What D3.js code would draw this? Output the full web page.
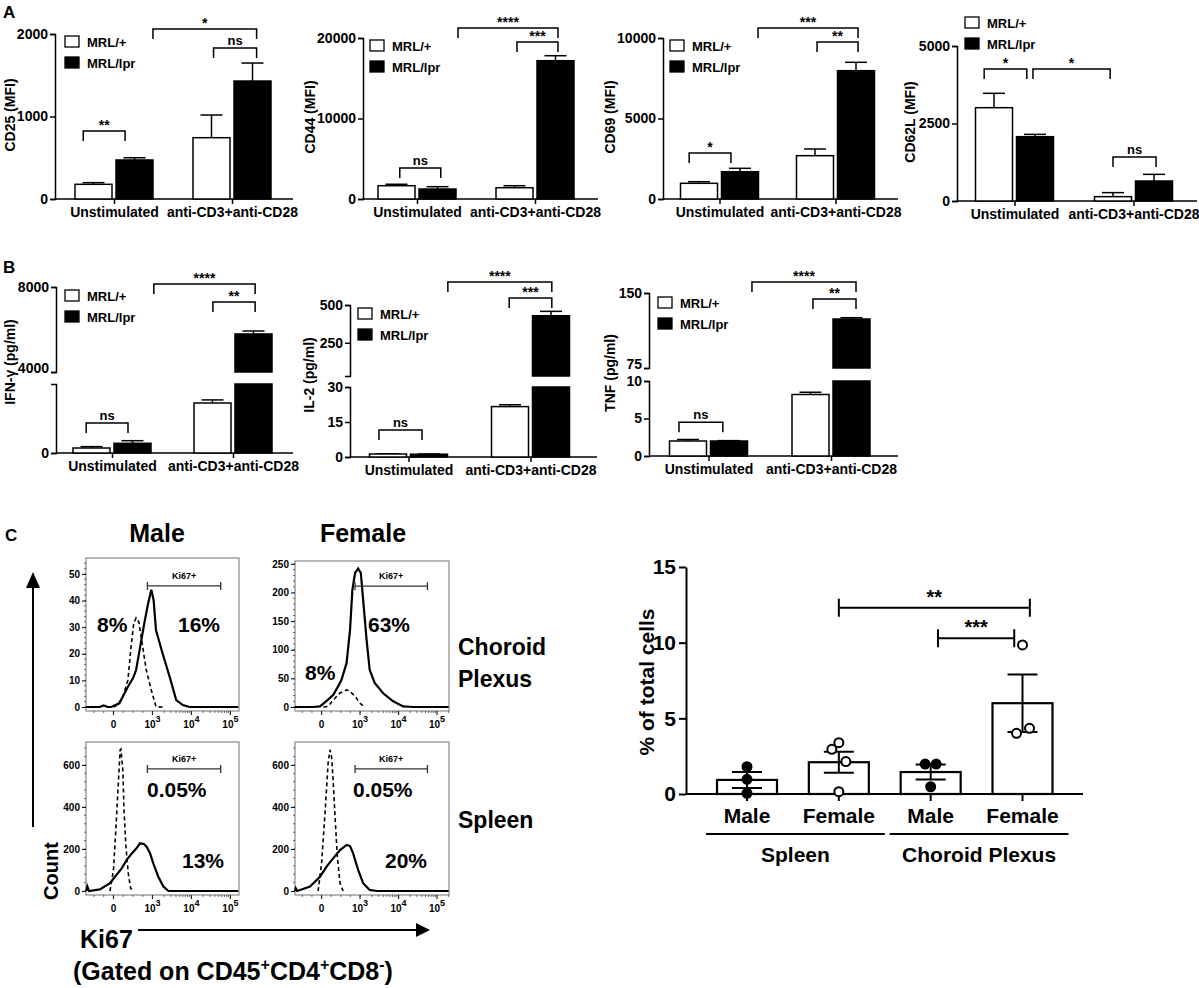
<!DOCTYPE html>
<html>
<head>
<meta charset="utf-8">
<script src="https://cdn.jsdelivr.net/npm/d3@7"></script>
<style>
body { margin: 0; background: #fff; }
svg { display: block; font-family: "Liberation Sans", Arial, sans-serif; font-weight: bold; }
</style>
</head>
<body>
<script>
// ---- panel A / B data (MRL/+ vs MRL/lpr, mean and SEM) ----
const groups = ["Unstimulated", "anti-CD3+anti-CD28"]
const strains = ["MRL/+", "MRL/lpr"]

const cd25Wt = [178, 743], cd25WtErr = [20, 275], cd25Lpr = [473, 1430], cd25LprErr = [27, 218]
const cd44Wt = [1650, 1400], cd44WtErr = [180, 250], cd44Lpr = [1240, 17180], cd44LprErr = [290, 620]
const cd69Wt = [975, 2690], cd69WtErr = [100, 415], cd69Lpr = [1696, 7970], cd69LprErr = [210, 520]
const cd62Wt = [3010, 140], cd62WtErr = [464, 130], cd62Lpr = [2075, 645], cd62LprErr = [75, 215]
const ifnWt = [235, 2355], ifnWtErr = [65, 145], ifnLpr = [457, 5790], ifnLprErr = [123, 140]
const il2Wt = [1.3, 21.6], il2WtErr = [0.1, 0.8], il2Lpr = [1.2, 429], il2LprErr = [0.1, 29]
const tnfWt = [2.0, 8.2], tnfWtErr = [0.2, 0.3], tnfLpr = [2.0, 124], tnfLprErr = [0.05, 1.3]

// significance brackets: [label, group1, bar1, group2, bar2, height]
const cd25Sig = [["**", 0, -0.25, 0, 0.77, 824], ["*", 0, 1.45, 1, 1.1, 2060], ["ns", 1, 0.05, 1, 1.1, 1830]]
const cd44Sig = [["ns", 0, 0.08, 0, 1.08, 3850], ["****", 0, 1.5, 1, 1.06, 21240], ["***", 1, 0.06, 1, 1.06, 19500]]
const cd69Sig = [["*", 0, -0.24, 0, 0.78, 2860], ["***", 0, 1.44, 1, 1.05, 10620], ["**", 1, 0.05, 1, 1.05, 9750]]
const cd62Sig = [["*", 0, -0.24, 0, 0.8, 4260], ["*", 0, 0.95, 1, -0.07, 4260], ["ns", 1, 0.0, 1, 1.05, 1420]]
const ifnSig = [["ns", 0, -0.13, 0, 0.89, 1410], ["****", 0, 1.52, 1, 1.04, 8140], ["**", 1, 0.01, 1, 1.04, 7290]]
const il2Sig = [["ns", 0, -0.22, 0, 0.83, 11.6], ["****", 0, 1.46, 1, 1.02, 652], ["***", 1, -0.02, 1, 1.02, 546]]
const tnfSig = [["ns", 0, -0.22, 0, 0.85, 4.5], ["****", 0, 1.56, 1, 1.11, 161], ["**", 1, 0.06, 1, 1.11, 144]]

// ---- panel C histograms: [Ki67 display position, count] ----
const cpMaleKi67 = [[-0.7,0],[-0.36,0],[-0.25,0.6],[-0.15,0],[-0.06,0],[0.15,1.4],[0.37,7.6],[0.5,10.8],[0.58,13.9],[0.67,21.4],[0.79,31.4],[0.88,38.3],[0.97,44.1],[1.03,40.1],[1.09,28.9],[1.26,20.1],[1.44,11.4],[1.61,2.6],[1.78,0.75],[1.95,0],[3.2,0]]
const cpMaleIso = [[0.0,0],[0.11,0.75],[0.24,3.9],[0.37,10.1],[0.45,22.6],[0.52,31.4],[0.58,33.5],[0.65,32],[0.71,26.4],[0.84,13.9],[0.97,6.4],[1.09,0.1],[1.26,0]]
const cpFemaleKi67 = [[-0.69,0],[-0.22,0],[-0.04,1],[0.17,13],[0.3,21],[0.43,36],[0.52,48],[0.65,77],[0.74,135],[0.8,204],[0.87,234],[0.95,242],[1.02,234],[1.08,187],[1.17,117],[1.25,65],[1.38,42],[1.6,24],[1.86,10],[2.12,1],[2.38,0],[3.3,0]]
const cpFemaleIso = [[0.05,0],[0.17,1],[0.3,12],[0.47,24],[0.65,30],[0.74,27],[0.87,19],[0.99,7],[1.12,0]]
const spMaleKi67 = [[-0.7,0],[-0.67,21],[-0.63,0],[-0.35,8],[-0.09,37],[0.04,68],[0.21,108],[0.34,148],[0.47,179],[0.59,203],[0.68,227],[0.78,224],[0.85,211],[0.94,179],[1.02,132],[1.15,68],[1.28,21],[1.41,0],[3.2,0]]
const spMaleIso = [[-0.09,0],[0.0,100],[0.06,290],[0.12,497],[0.17,671],[0.19,675],[0.24,576],[0.27,386],[0.32,211],[0.38,84],[0.44,13],[0.51,0]]
const spFemaleKi67 = [[-0.69,0],[-0.67,13],[-0.63,0],[-0.3,21],[-0.04,68],[0.13,116],[0.3,155],[0.48,195],[0.65,219],[0.74,214],[0.82,179],[0.95,100],[1.08,37],[1.25,5],[1.43,0],[3.3,0]]
const spFemaleIso = [[-0.09,0],[0.0,132],[0.09,370],[0.17,608],[0.22,671],[0.26,640],[0.3,528],[0.35,354],[0.41,163],[0.48,37],[0.56,0]]
const gateRange = [0.87, 2.75]
const xDecades = ["0", "3", "4", "5"]

// ---- panel C dot plot ----
const dotSex = ["Male", "Female", "Male", "Female"]
const dotTissue = ["Spleen", "Choroid Plexus"]
const dotMean = [0.93, 2.1, 1.45, 6.0]
const dotSem = [0.53, 0.7, 0.5, 1.9]
const dotPoints = [[1.8, 0.97, 0.05], [2.95, 3.39, 2.14, 0.15], [1.98, 1.98, 0.48], [9.85, 4.01, 4.34]]
const dotSig = [["**", 1, 3.08, 12.3], ["***", 2.08, 2.91, 10.3]]

const svg = d3.select("body").append("svg").attr("width", 1199).attr("height", 988)

function label(sel, x, y, s, size, anchor = "start") {
    return sel.append("text").attr("x", x).attr("y", y)
        .attr("font-size", size).attr("text-anchor", anchor).text(s)
}

function barPanel(p) {
    const g = svg.append("g")
    const segs = p.segs.map(s => Object.assign({}, s, { y: d3.scaleLinear().domain(s.dom).range(s.rng) }))
    const low = segs[0], up = segs[segs.length - 1]
    const yv = v => (v <= low.dom[1] ? low.y(v) : up.y(v))
    const bx = (gi, s) => p.c[gi] + (s - 0.5) * 41
    const y0 = low.y(0)

    segs.forEach((s, si) => {
        const a = g.append("g").attr("transform", `translate(${p.ax},0)`)
            .call(d3.axisLeft(s.y).tickValues(s.ticks).tickSize(5).tickSizeOuter(5).tickPadding(2)
                .tickFormat(d3.format("d")))
        a.attr("font-family", null).attr("font-size", 14)
        a.selectAll("path, line").attr("stroke-width", 1.5)
        // lift the lowest label of an upper segment so it clears the segment below
        if (si > 0) a.selectAll(".tick text").filter(d => d === s.dom[0]).attr("dy", "0.05em")
    })

    const xp = d3.scalePoint().domain(groups).range(p.c)
    const xa = g.append("g").attr("transform", `translate(0,${y0})`)
        .call(d3.axisBottom(xp).tickSize(5).tickSizeOuter(0).tickPadding(3))
    xa.select(".domain").remove()
    xa.attr("font-family", null).attr("font-size", 14)
    xa.selectAll("line").attr("stroke-width", 1.5)
    g.append("line").attr("x1", p.ax).attr("x2", p.end).attr("y1", y0).attr("y2", y0)
        .attr("stroke", "#000").attr("stroke-width", 1.5)

    const bars = []
    groups.forEach((_, gi) => {
        bars.push({ gi, s: 0, v: p.wt[gi], e: p.wtErr[gi], fill: "#fff" })
        bars.push({ gi, s: 1, v: p.lpr[gi], e: p.lprErr[gi], fill: "#000" })
    })
    bars.forEach(b => {
        const cx = bx(b.gi, b.s)
        const yt = yv(b.v), ye = yv(b.v + b.e)
        g.append("line").attr("x1", cx).attr("x2", cx).attr("y1", yt).attr("y2", ye)
            .attr("stroke", "#000").attr("stroke-width", 1.5)
        g.append("line").attr("x1", cx - 11).attr("x2", cx + 11).attr("y1", ye).attr("y2", ye)
            .attr("stroke", "#000").attr("stroke-width", 1.5)
        const parts = b.v > low.dom[1]
            ? [[y0, low.y(low.dom[1])], [up.y(up.dom[0]), up.y(b.v)]]
            : [[y0, yt]]
        g.selectAll(null).data(parts).join("rect")
            .attr("x", cx - 18.5).attr("width", 37)
            .attr("y", d => d[1]).attr("height", d => d[0] - d[1])
            .attr("fill", b.fill).attr("stroke", "#000").attr("stroke-width", 1.5)
    })

    p.sig.forEach(([t, g1, s1, g2, s2, v]) => {
        const x1 = bx(g1, s1), x2 = bx(g2, s2), y = yv(v)
        g.append("path").attr("d", `M${x1},${y + 10}V${y}H${x2}V${y + 10}`)
            .attr("fill", "none").attr("stroke", "#000").attr("stroke-width", 1.5)
        label(g, (x1 + x2) / 2, y - (t === "ns" ? 3 : 1), t, t === "ns" ? 13 : 14, "middle")
    })

    // legend
    strains.forEach((s, i) => {
        const ly = p.legend[1] + i * 21
        g.append("rect").attr("x", p.legend[0]).attr("y", ly).attr("width", 14).attr("height", 11)
            .attr("fill", i ? "#000" : "#fff").attr("stroke", "#000").attr("stroke-width", 1.3)
        label(g, p.legend[0] + 22, ly + 11, s, 13)
    })

    g.append("text").attr("transform", `translate(${p.ylab[0]},${p.ylab[1]}) rotate(-90)`)
        .attr("dy", "0.35em").attr("text-anchor", "middle").attr("font-size", 14).text(p.title)
}

const barPanels = [
    { title: "CD25 (MFI)", ax: 55, c: [114, 232], end: 293, ylab: [10, 115], legend: [65, 36],
      segs: [{ dom: [0, 2000], rng: [199, 34], ticks: [0, 1000, 2000] }],
      wt: cd25Wt, wtErr: cd25WtErr, lpr: cd25Lpr, lprErr: cd25LprErr, sig: cd25Sig },
    { title: "CD44 (MFI)", ax: 363, c: [417, 535], end: 598, ylab: [310, 117], legend: [370, 40],
      segs: [{ dom: [0, 20000], rng: [199, 38], ticks: [0, 10000, 20000] }],
      wt: cd44Wt, wtErr: cd44WtErr, lpr: cd44Lpr, lprErr: cd44LprErr, sig: cd44Sig },
    { title: "CD69 (MFI)", ax: 663, c: [719.5, 835.5], end: 898, ylab: [610, 117], legend: [670, 40],
      segs: [{ dom: [0, 10000], rng: [199, 38], ticks: [0, 5000, 10000] }],
      wt: cd69Wt, wtErr: cd69WtErr, lpr: cd69Lpr, lprErr: cd69LprErr, sig: cd69Sig },
    { title: "CD62L (MFI)", ax: 957, c: [1014.5, 1133.5], end: 1197, ylab: [910, 122], legend: [965, 17],
      segs: [{ dom: [0, 5000], rng: [201, 46], ticks: [0, 2500, 5000] }],
      wt: cd62Wt, wtErr: cd62WtErr, lpr: cd62Lpr, lprErr: cd62LprErr, sig: cd62Sig },
    { title: "IFN-γ (pg/ml)", ax: 56, c: [112, 233], end: 293, ylab: [10, 362], legend: [65, 290],
      segs: [{ dom: [0, 3250], rng: [453, 384], ticks: [0] }, { dom: [4000, 8000], rng: [372, 287], ticks: [4000, 8000] }],
      wt: ifnWt, wtErr: ifnWtErr, lpr: ifnLpr, lprErr: ifnLprErr, sig: ifnSig },
    { title: "IL-2 (pg/ml)", ax: 350, c: [408.5, 530.5], end: 597, ylab: [309, 375], legend: [358, 308],
      segs: [{ dom: [0, 30], rng: [457, 387], ticks: [0, 15, 30] }, { dom: [30, 500], rng: [376, 305], ticks: [250, 500] }],
      wt: il2Wt, wtErr: il2WtErr, lpr: il2Lpr, lprErr: il2LprErr, sig: il2Sig },
    { title: "TNF (pg/ml)", ax: 649, c: [708.5, 831], end: 898, ylab: [610, 373], legend: [658, 297],
      segs: [{ dom: [0, 10], rng: [456, 381], ticks: [0, 5, 10] }, { dom: [75, 150], rng: [368, 293], ticks: [75, 150] }],
      wt: tnfWt, wtErr: tnfWtErr, lpr: tnfLpr, lprErr: tnfLprErr, sig: tnfSig }
]
barPanels.forEach(barPanel)

label(svg, 3, 18, "A", 17)
label(svg, 3, 273, "B", 17)
label(svg, 5, 541, "C", 17)

// ---- histograms ----
function histPanel(h) {
    const [x0, x1, yTop, yBot] = h.box
    const x = d3.scaleLinear().domain(h.xd).range([x0, x1])
    const y = d3.scaleLinear().domain(h.yd).range([yBot, yTop])
    const g = svg.append("g")
    g.append("rect").attr("x", x0).attr("y", yTop).attr("width", x1 - x0).attr("height", yBot - yTop)
        .attr("fill", "none").attr("stroke", "#888").attr("stroke-width", 1.2)

    const ya = g.append("g").attr("transform", `translate(${x0},0)`)
        .call(d3.axisLeft(y).tickValues(h.yt).tickSize(4).tickSizeOuter(0).tickPadding(2))
    ya.select(".domain").remove()
    ya.attr("font-family", null).attr("font-size", 10)
    g.selectAll(null).data(d3.range(0, h.yd[1], h.minor)).join("line")
        .attr("x1", x0 - 2).attr("x2", x0).attr("y1", d => y(d)).attr("y2", d => y(d))
        .attr("stroke", "#444").attr("stroke-width", 0.8)

    const major = d3.range(xDecades.length)
    g.selectAll(null).data(major).join("line")
        .attr("x1", d => x(d)).attr("x2", d => x(d)).attr("y1", yBot).attr("y2", yBot + 4)
        .attr("stroke", "#222").attr("stroke-width", 1.2)
    const minor = [-0.5, -0.25, 0.25, 0.5, 0.75]
    ;[1, 2].forEach(k => d3.range(2, 10).forEach(m => minor.push(k + Math.log10(m))))
    d3.range(2, 10).forEach(m => minor.push(3 + Math.log10(m)))
    g.selectAll(null).data(minor.filter(d => x(d) < x1)).join("line")
        .attr("x1", d => x(d)).attr("x2", d => x(d)).attr("y1", yBot).attr("y2", yBot + 2)
        .attr("stroke", "#444").attr("stroke-width", 0.8)
    major.forEach(i => {
        const t = g.append("text").attr("x", x(i)).attr("y", yBot + 17)
            .attr("font-size", 10).attr("text-anchor", "middle")
        if (i === 0) t.text("0")
        else {
            t.append("tspan").text("10")
            t.append("tspan").attr("dy", -6).attr("font-size", 9).text(xDecades[i])
        }
    })

    const line = d3.line().x(d => x(d[0])).y(d => y(d[1]))
    g.append("path").datum(h.iso).attr("d", line).attr("fill", "none")
        .attr("stroke", "#000").attr("stroke-width", 1.6).attr("stroke-dasharray", "4,3")
    g.append("path").datum(h.ki).attr("d", line).attr("fill", "none")
        .attr("stroke", "#000").attr("stroke-width", 2.2)

    const gy = y(h.gate)
    g.append("path").attr("d", `M${x(gateRange[0])},${gy - 4}V${gy + 4}M${x(gateRange[0])},${gy}H${x(gateRange[1])}M${x(gateRange[1])},${gy - 4}V${gy + 4}`)
        .attr("stroke", "#333").attr("stroke-width", 1.3).attr("fill", "none")
    label(g, (x(gateRange[0]) + x(gateRange[1])) / 2, gy - 7, "Ki67+", 9, "middle")

    h.pct.forEach(([s, px, py]) => label(g, px, py, s, 21))
}

const histLayout = [
    { box: [86, 239, 558, 711], xd: [-0.705, 3.22], yd: [-1.5, 56], yt: [0, 10, 20, 30, 40, 50], minor: 2,
      ki: cpMaleKi67, iso: cpMaleIso, gate: 45.5, pct: [["8%", 97, 632], ["16%", 178, 632]] },
    { box: [295, 449, 561, 711], xd: [-0.69, 3.31], yd: [-7, 255], yt: [0, 50, 100, 150, 200, 250], minor: 10,
      ki: cpFemaleKi67, iso: cpFemaleIso, gate: 211, pct: [["8%", 305, 680], ["63%", 368, 632]] },
    { box: [86, 239, 742, 895], xd: [-0.705, 3.22], yd: [-19, 709], yt: [0, 200, 400, 600], minor: 40,
      ki: spMaleKi67, iso: spMaleIso, gate: 581, pct: [["0.05%", 147, 797], ["13%", 182, 868]] },
    { box: [295, 449, 742, 895], xd: [-0.69, 3.31], yd: [-19, 709], yt: [0, 200, 400, 600], minor: 40,
      ki: spFemaleKi67, iso: spFemaleIso, gate: 581, pct: [["0.05%", 353, 797], ["20%", 385, 868]] }
]
histLayout.forEach(histPanel)

label(svg, 157, 542, "Male", 25, "middle")
label(svg, 363, 542, "Female", 25, "middle")
label(svg, 458, 655, "Choroid", 23)
label(svg, 458, 687, "Plexus", 23)
label(svg, 458, 828, "Spleen", 23)
svg.append("text").attr("transform", "translate(51,871) rotate(-90)").attr("dy", "0.35em")
    .attr("text-anchor", "middle").attr("font-size", 20).text("Count")

// arrows
svg.append("line").attr("x1", 33).attr("x2", 33).attr("y1", 827).attr("y2", 585)
    .attr("stroke", "#000").attr("stroke-width", 2)
svg.append("path").attr("d", "M33,572L40,588L26,588Z").attr("fill", "#000")
svg.append("line").attr("x1", 138).attr("x2", 420).attr("y1", 930).attr("y2", 930)
    .attr("stroke", "#000").attr("stroke-width", 2)
svg.append("path").attr("d", "M430,930L416,923L416,937Z").attr("fill", "#000")
label(svg, 80, 948, "Ki67", 25)
const gated = svg.append("text").attr("x", 73).attr("y", 980).attr("font-size", 25)
gated.append("tspan").text("(Gated on CD45")
gated.append("tspan").attr("dy", -10).attr("font-size", 16).text("+")
gated.append("tspan").attr("dy", 10).text("CD4")
gated.append("tspan").attr("dy", -10).attr("font-size", 16).text("+")
gated.append("tspan").attr("dy", 10).text("CD8")
gated.append("tspan").attr("dy", -10).attr("font-size", 16).text("-")
gated.append("tspan").attr("dy", 10).text(")")

// ---- dot plot ----
const dp = svg.append("g")
const yd = d3.scaleLinear().domain([0, 15]).range([794, 567])
const xd = d3.scaleLinear().domain([0, 3]).range([747, 1022.5])
const dya = dp.append("g").attr("transform", "translate(686,0)")
    .call(d3.axisLeft(yd).tickValues([0, 5, 10, 15]).tickSize(7).tickSizeOuter(0).tickPadding(3).tickFormat(d3.format("d")))
dya.attr("font-family", null).attr("font-size", 21)
dya.selectAll("path, line").attr("stroke-width", 2)
dp.append("line").attr("x1", 686).attr("x2", 1083).attr("y1", 794).attr("y2", 794)
    .attr("stroke", "#000").attr("stroke-width", 2)

dp.selectAll(null).data(dotMean).join("rect")
    .attr("x", (d, i) => xd(i) - 30).attr("width", 60)
    .attr("y", d => yd(d)).attr("height", d => yd(0) - yd(d))
    .attr("fill", "#fff").attr("stroke", "#000").attr("stroke-width", 2.2)
dotMean.forEach((m, i) => {
    const cx = xd(i), e = dotSem[i]
    dp.append("line").attr("x1", cx).attr("x2", cx).attr("y1", 794).attr("y2", 801)
        .attr("stroke", "#000").attr("stroke-width", 2)
    dp.append("path").attr("d", `M${cx - 15},${yd(m + e)}H${cx + 15}M${cx},${yd(m + e)}V${yd(m - e)}M${cx - 15},${yd(m - e)}H${cx + 15}`)
        .attr("stroke", "#000").attr("stroke-width", 2).attr("fill", "none")
    label(dp, cx, 823, dotSex[i], 21, "middle")
})
const jitter = [[0, 0, 0], [-7, 0, 7, 0], [-5.5, 5.5, 0], [0, -6, 7]]
dotPoints.forEach((pts, i) => {
    dp.selectAll(null).data(pts).join("circle")
        .attr("cx", (d, j) => xd(i) + jitter[i][j]).attr("cy", d => yd(d)).attr("r", 4.5)
        .attr("fill", dotSex[i] === "Male" ? "#000" : "#fff")
        .attr("stroke", "#000").attr("stroke-width", 2)
})
dotTissue.forEach((t, k) => {
    const a = xd(k * 2) - 41, b = xd(k * 2 + 1) + 46
    dp.append("line").attr("x1", a).attr("x2", b).attr("y1", 834).attr("y2", 834)
        .attr("stroke", "#000").attr("stroke-width", 2)
    label(dp, (a + b) / 2, 862, t, 21, "middle")
})
dotSig.forEach(([t, i1, i2, v]) => {
    const x1 = xd(i1), x2 = xd(i2), y = yd(v)
    dp.append("path").attr("d", `M${x1},${y - 9}V${y + 9}M${x1},${y}H${x2}M${x2},${y - 9}V${y + 9}`)
        .attr("stroke", "#000").attr("stroke-width", 2).attr("fill", "none")
    label(dp, (x1 + x2) / 2, y - 4, t, 20, "middle")
})
dp.append("text").attr("transform", "translate(647,682) rotate(-90)").attr("dy", "0.35em")
    .attr("text-anchor", "middle").attr("font-size", 21).text("% of total cells")
</script>
</body>
</html>
